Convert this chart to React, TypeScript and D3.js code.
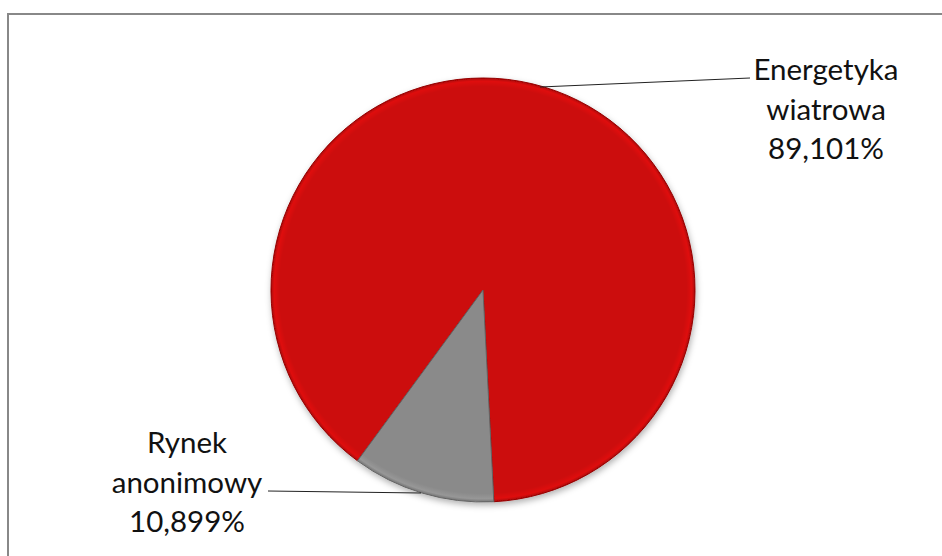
import { useEffect, useRef } from "react";
import * as d3 from "d3";

const categories = ["Energetyka wiatrowa", "Rynek anonimowy"];
const shares = [89.101, 10.899];
const labelLines = [
  ["Energetyka", "wiatrowa", "89,101%"],
  ["Rynek", "anonimowy", "10,899%"],
];
const sliceColors = ["#cc0808", "#8a8a8a"];

const width = 942;
const height = 556;

export default function App() {
  const svgRef = useRef<SVGSVGElement>(null);

  useEffect(() => {
    if (!svgRef.current) return;
    const svg = d3.select(svgRef.current);
    svg.selectAll("*").remove();

    svg.append("rect").attr("width", width).attr("height", height).attr("fill", "#fff");

    // chart frame (runs off the right and bottom edge)
    svg
      .append("rect")
      .attr("x", 8)
      .attr("y", 14)
      .attr("width", width + 20)
      .attr("height", height + 20)
      .attr("fill", "none")
      .attr("stroke", "#888")
      .attr("stroke-width", 2);

    const defs = svg.append("defs");
    const shadow = defs
      .append("filter")
      .attr("id", "shadow")
      .attr("x", "-20%")
      .attr("y", "-20%")
      .attr("width", "140%")
      .attr("height", "140%");
    shadow
      .append("feDropShadow")
      .attr("dx", 1)
      .attr("dy", 3)
      .attr("stdDeviation", 3)
      .attr("flood-color", "#000")
      .attr("flood-opacity", 0.3);

    sliceColors.forEach((c, i) => {
      const g = defs
        .append("radialGradient")
        .attr("id", `grad${i}`)
        .attr("gradientUnits", "userSpaceOnUse")
        .attr("cx", 0)
        .attr("cy", 0)
        .attr("r", 212);
      g.append("stop").attr("offset", "0%").attr("stop-color", c);
      g.append("stop").attr("offset", "96%").attr("stop-color", c);
      g.append("stop")
        .attr("offset", "98.5%")
        .attr("stop-color", d3.color(c)!.brighter(0.25).formatHex());
      g.append("stop")
        .attr("offset", "100%")
        .attr("stop-color", d3.color(c)!.darker(0.5).formatHex());
    });

    const cx = 483;
    const cy = 290;
    const radius = 212;
    const start = (216.3 * Math.PI) / 180;

    const pie = d3
      .pie<number>()
      .sort(null)
      .startAngle(start)
      .endAngle(start + 2 * Math.PI);
    const arcs = pie(shares);
    const arc = d3.arc<d3.PieArcDatum<number>>().innerRadius(0).outerRadius(radius);

    const g = svg
      .append("g")
      .attr("transform", `translate(${cx},${cy})`)
      .attr("filter", "url(#shadow)");

    g.selectAll("path")
      .data(arcs)
      .join("path")
      .attr("d", arc)
      .attr("fill", (_, i) => `url(#grad${i})`)
      .attr("stroke", (_, i) => d3.color(sliceColors[i])!.darker(0.9).formatHex())
      .attr("stroke-width", 1)
      .attr("stroke-linejoin", "round");

    // leader lines
    const leaders = [
      { from: [540, 87], to: [750, 78] },
      { from: [268, 491], to: [421, 493] },
    ];
    svg
      .selectAll("line.leader")
      .data(leaders)
      .join("line")
      .attr("class", "leader")
      .attr("x1", (d) => d.from[0])
      .attr("y1", (d) => d.from[1])
      .attr("x2", (d) => d.to[0])
      .attr("y2", (d) => d.to[1])
      .attr("stroke", "#222")
      .attr("stroke-width", 1);

    const labelPos = [
      { x: 826, y: 80 },
      { x: 187, y: 453 },
    ];
    labelLines.forEach((lines, i) => {
      const t = svg
        .append("text")
        .attr("font-family", "Lato, 'Open Sans', sans-serif")
        .attr("font-size", 29.5)
        .attr("fill", "#111")
        .attr("text-anchor", "middle")
        .attr("aria-label", categories[i]);
      lines.forEach((line, j) => {
        t.append("tspan")
          .attr("x", labelPos[i].x)
          .attr("y", labelPos[i].y + j * 39.5)
          .text(line);
      });
    });
  }, []);

  return (
    <svg
      ref={svgRef}
      width={width}
      height={height}
      style={{ position: "absolute", left: 0, top: 0 }}
    />
  );
}
